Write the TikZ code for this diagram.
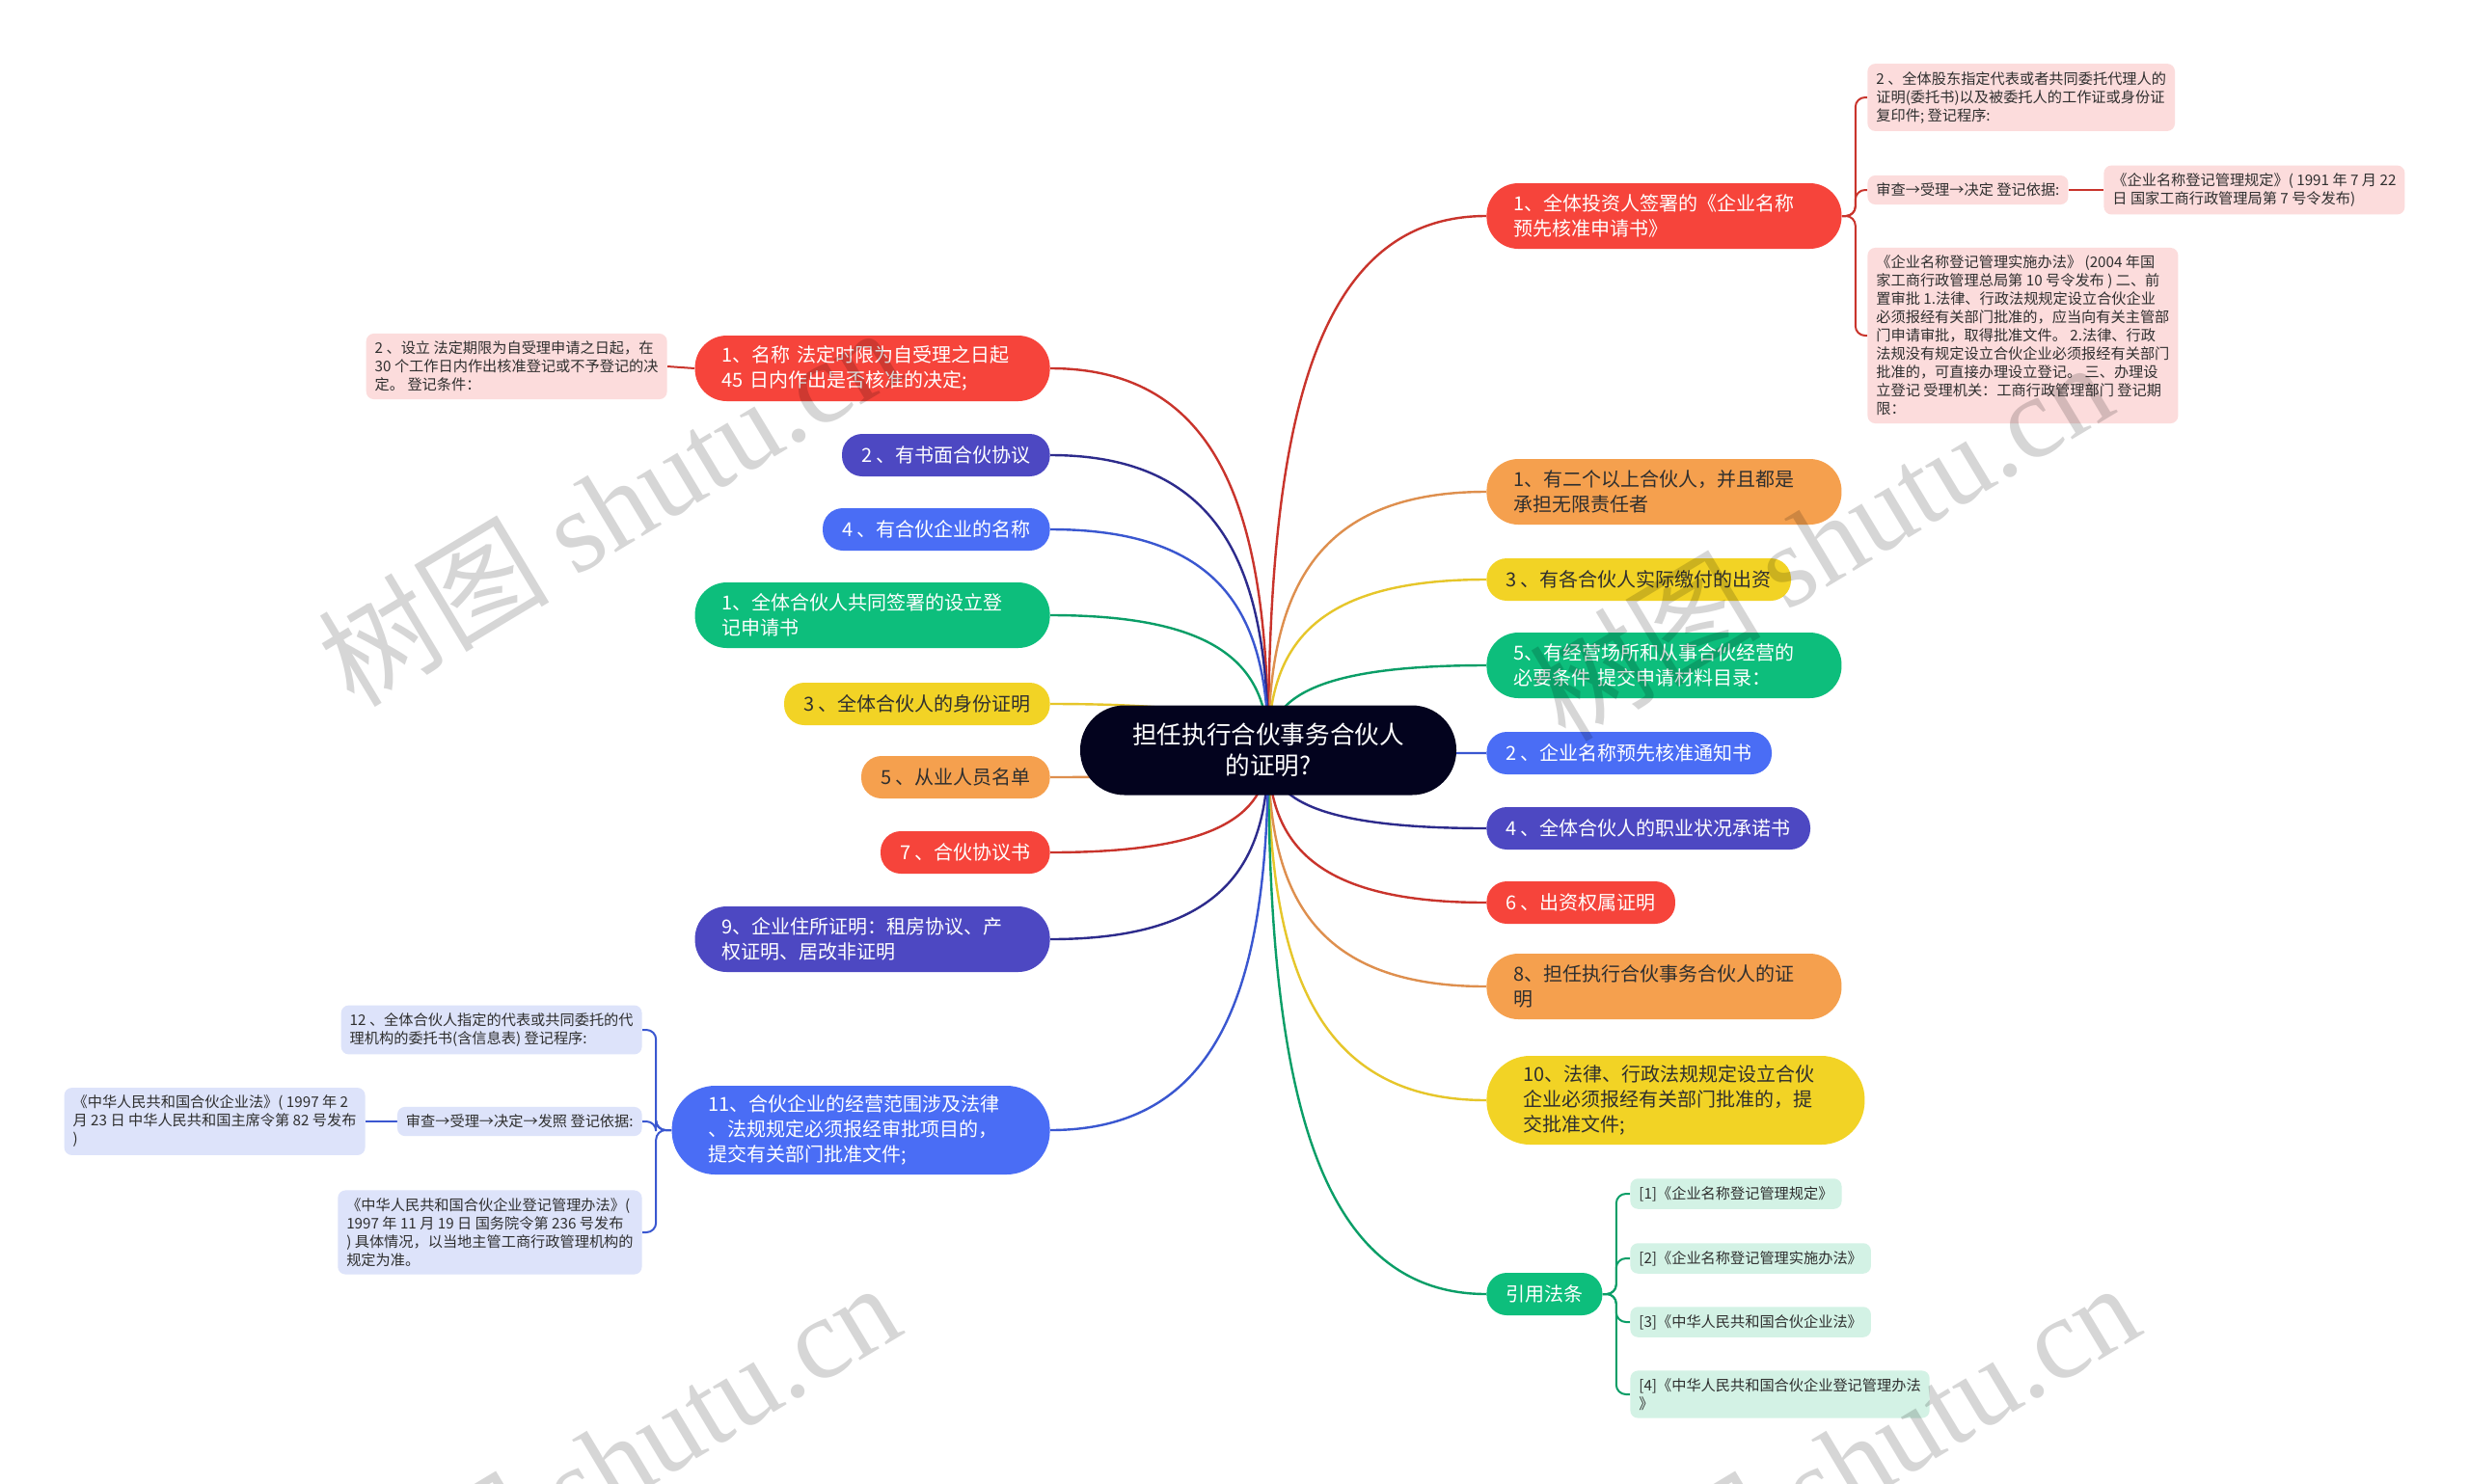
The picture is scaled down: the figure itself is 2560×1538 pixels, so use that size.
\documentclass[tikz,border=0pt]{standalone}
\usepackage{fontspec}
\setmainfont{Noto Sans CJK SC}
\newfontfamily\wmfont{Liberation Serif}
\usetikzlibrary{calc}
\pgfdeclarelayer{back}
\pgfdeclarelayer{lines}
\pgfdeclarelayer{marks}
\pgfsetlayers{back,lines,main,marks}

\definecolor{rootbg}{HTML}{03031E}
\definecolor{redbg}{HTML}{F6443B}
\definecolor{redln}{HTML}{C9342C}
\definecolor{orgbg}{HTML}{F5A04E}
\definecolor{orgln}{HTML}{DE8F4E}
\definecolor{ylwbg}{HTML}{F2D325}
\definecolor{ylwln}{HTML}{E6C62A}
\definecolor{grnbg}{HTML}{0DBE7C}
\definecolor{grnln}{HTML}{0A9E67}
\definecolor{blubg}{HTML}{4A6DF5}
\definecolor{bluln}{HTML}{3A57D0}
\definecolor{indbg}{HTML}{4D48C2}
\definecolor{indln}{HTML}{2D2B8C}
\definecolor{pinkbg}{HTML}{FCDCDC}
\definecolor{lbluebg}{HTML}{DDE3FA}
\definecolor{lgrnbg}{HTML}{D3F2E5}
\definecolor{txtdark}{HTML}{2F2F2F}

\tikzset{
  pill/.style={rounded corners=10.5pt, minimum height=22pt, inner xsep=10pt, inner ysep=0pt,
    align=left, font=\fontsize{10}{13}\selectfont},
  pilltwo/.style={pill, rounded corners=16.5pt, minimum height=34pt, text width=156pt, inner xsep=14pt},
  pillthree/.style={pill, rounded corners=22.5pt, minimum height=46pt, text width=158pt, inner xsep=19pt},
  tinybox/.style={rounded corners=4pt, inner xsep=4.5pt, inner ysep=4pt, align=left,
    text=txtdark, font=\fontsize{7.6}{9.5}\selectfont},
  redn/.style={fill=redbg, text=white},
  orgn/.style={fill=orgbg, text=txtdark},
  ylwn/.style={fill=ylwbg, text=txtdark},
  grnn/.style={fill=grnbg, text=white},
  blun/.style={fill=blubg, text=white},
  indn/.style={fill=indbg, text=white},
  link/.style={line width=1.2pt},
  sublink/.style={line width=1pt, rounded corners=5pt},
  wmark/.style={text=black, opacity=0.16, font=\fontsize{60}{60}\selectfont}
}

% curve from the centre of the root to one side of a branch
\newcommand{\branch}[2]{%
  \draw[link,#1] let \p1=(root.center), \p2=(#2) in
    (\p1) .. controls ($(\p1)!0.6!(\x1,\y2)$) and ($(\x1,\y2)!0.2!(\p2)$) .. (\p2);}

\begin{document}
\begin{tikzpicture}[x=0.5pt,y=-0.5pt]
  \begin{pgfonlayer}{back}
    \fill[white] (0,0) rectangle (2560,1538);
  \end{pgfonlayer}
  \useasboundingbox (0,0) rectangle (2560,1538);

  \node[fill=rootbg, text=white, rounded corners=23pt, minimum width=195pt, minimum height=46.5pt,
    align=center, font=\fontsize{12.8}{16}\selectfont] (root) at (1315,778) {担任执行合伙事务合伙人\\的证明?};

  % right side
  \node[pilltwo, redn, anchor=west] (r1) at (1541,224) {1、全体投资人签署的《企业名称\\预先核准申请书》};
  \node[pilltwo, orgn, anchor=west] (r2) at (1541,510) {1、有二个以上合伙人，并且都是\\承担无限责任者};
  \node[pill, ylwn, anchor=west] (r3) at (1541,601) {3 、有各合伙人实际缴付的出资};
  \node[pilltwo, grnn, anchor=west] (r4) at (1541,690) {5、有经营场所和从事合伙经营的\\必要条件~提交申请材料目录：};
  \node[pill, blun, anchor=west] (r5) at (1541,781) {2 、企业名称预先核准通知书};
  \node[pill, indn, anchor=west] (r6) at (1541,859) {4 、全体合伙人的职业状况承诺书};
  \node[pill, redn, anchor=west] (r7) at (1541,936) {6 、出资权属证明};
  \node[pilltwo, orgn, anchor=west] (r8) at (1541,1023) {8、担任执行合伙事务合伙人的证\\明};
  \node[pillthree, ylwn, anchor=west] (r9) at (1541,1141) {10、法律、行政法规规定设立合伙\\企业必须报经有关部门批准的，提\\交批准文件;};
  \node[pill, grnn, anchor=west] (r10) at (1541,1342) {引用法条};

  % left side
  \node[pilltwo, redn, anchor=east] (l1) at (1089,382) {1、名称~法定时限为自受理之日起\\45~日内作出是否核准的决定;};
  \node[pill, indn, anchor=east] (l2) at (1089,472) {2 、有书面合伙协议};
  \node[pill, blun, anchor=east] (l3) at (1089,549) {4 、有合伙企业的名称};
  \node[pilltwo, grnn, anchor=east] (l4) at (1089,638) {1、全体合伙人共同签署的设立登\\记申请书};
  \node[pill, ylwn, anchor=east] (l5) at (1089,730) {3 、全体合伙人的身份证明};
  \node[pill, orgn, anchor=east] (l6) at (1089,806) {5 、从业人员名单};
  \node[pill, redn, anchor=east] (l7) at (1089,884) {7 、合伙协议书};
  \node[pilltwo, indn, anchor=east] (l8) at (1089,974) {9、企业住所证明：租房协议、产\\权证明、居改非证明};
  \node[pillthree, blun, anchor=east] (l9) at (1089,1172) {11、合伙企业的经营范围涉及法律\\、法规规定必须报经审批项目的，\\提交有关部门批准文件;};

  % small boxes
  \node[tinybox, fill=pinkbg, anchor=west] (r1a) at (1936,101) {2 、全体股东指定代表或者共同委托代理人的\\证明(委托书)以及被委托人的工作证或身份证\\复印件; 登记程序:};
  \node[tinybox, fill=pinkbg, anchor=west] (r1b) at (1936,197) {审查→受理→决定 登记依据:};
  \node[tinybox, fill=pinkbg, anchor=west] (r1b1) at (2181,197) {《企业名称登记管理规定》( 1991 年 7 月 22\\日 国家工商行政管理局第 7 号令发布)};
  \node[tinybox, fill=pinkbg, anchor=west] (r1c) at (1936,348) {《企业名称登记管理实施办法》 (2004 年国\\家工商行政管理总局第 10 号令发布 ) 二、前\\置审批 1.法律、行政法规规定设立合伙企业\\必须报经有关部门批准的，应当向有关主管部\\门申请审批，取得批准文件。 2.法律、行政\\法规没有规定设立合伙企业必须报经有关部门\\批准的，可直接办理设立登记。 三、办理设\\立登记 受理机关：工商行政管理部门 登记期\\限：};
  \node[tinybox, fill=pinkbg, anchor=east] (l1a) at (692,380) {2 、设立 法定期限为自受理申请之日起，在\\30 个工作日内作出核准登记或不予登记的决\\定。 登记条件：};
  \node[tinybox, fill=lbluebg, anchor=east] (l9a) at (666,1068) {12 、全体合伙人指定的代表或共同委托的代\\理机构的委托书(含信息表) 登记程序:};
  \node[tinybox, fill=lbluebg, anchor=east] (l9b) at (666,1163) {审查→受理→决定→发照 登记依据:};
  \node[tinybox, fill=lbluebg, anchor=east] (l9b1) at (379,1163) {《中华人民共和国合伙企业法》( 1997 年 2\\月 23 日 中华人民共和国主席令第 82 号发布\\)};
  \node[tinybox, fill=lbluebg, anchor=east] (l9c) at (666,1278) {《中华人民共和国合伙企业登记管理办法》(\\1997 年 11 月 19 日 国务院令第 236 号发布\\) 具体情况，以当地主管工商行政管理机构的\\规定为准。};
  \node[tinybox, fill=lgrnbg, anchor=west] (law1) at (1690,1238) {[1]《企业名称登记管理规定》};
  \node[tinybox, fill=lgrnbg, anchor=west] (law2) at (1690,1305) {[2]《企业名称登记管理实施办法》};
  \node[tinybox, fill=lgrnbg, anchor=west] (law3) at (1690,1371) {[3]《中华人民共和国合伙企业法》};
  \node[tinybox, fill=lgrnbg, anchor=west] (law4) at (1690,1446) {[4]《中华人民共和国合伙企业登记管理办法\\》};

  \begin{pgfonlayer}{lines}
    \branch{redln}{r1.west}
    \branch{orgln}{r2.west}
    \branch{ylwln}{r3.west}
    \branch{grnln}{r4.west}
    \branch{bluln}{r5.west}
    \branch{indln}{r6.west}
    \branch{redln}{r7.west}
    \branch{orgln}{r8.west}
    \branch{ylwln}{r9.west}
    \branch{grnln}{r10.west}
    \branch{redln}{l1.east}
    \branch{indln}{l2.east}
    \branch{bluln}{l3.east}
    \branch{grnln}{l4.east}
    \branch{ylwln}{l5.east}
    \branch{orgln}{l6.east}
    \branch{redln}{l7.east}
    \branch{indln}{l8.east}
    \branch{bluln}{l9.east}
    \foreach \c in {r1a,r1b,r1c}
      \draw[sublink, redln] (r1.east) -- ++(14,0) |- (\c.west);
    \draw[sublink, redln] (r1b.east) -- (r1b1.west);
    \draw[sublink, redln] (l1.west) -- (l1a.east);
    \foreach \c in {l9a,l9b,l9c}
      \draw[sublink, bluln] (l9.west) -- ++(-16,0) |- (\c.east);
    \draw[sublink, bluln] (l9b.west) -- (l9b1.east);
    \foreach \c in {law1,law2,law3,law4}
      \draw[sublink, grnln] (r10.east) -- ++(14,0) |- (\c.west);
  \end{pgfonlayer}

  \begin{pgfonlayer}{marks}
    \begin{scope}
      \clip (0,0) rectangle (2560,1538);
      \foreach \wx/\wy in {631/524, 1887/560, 630/1515, 1915/1515}
        \node[wmark, rotate=31] at (\wx,\wy) {树图 {\wmfont shutu.cn}};
    \end{scope}
  \end{pgfonlayer}
\end{tikzpicture}
\end{document}
